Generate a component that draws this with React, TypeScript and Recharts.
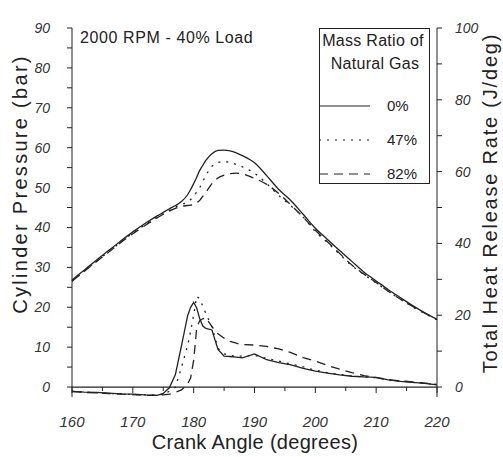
import React from "react";
import {
  ComposedChart,
  Line,
  XAxis,
  YAxis,
  Legend,
  ReferenceLine,
} from "recharts";

// crank angle (deg)
const angles = [
  160, 162, 164, 166, 168, 170, 172, 174, 175, 176, 177, 178, 179, 179.5, 180,
  180.5, 181, 181.5, 182, 183, 184, 185, 186, 187, 188, 190, 192, 194, 196, 198,
  200, 202, 204, 206, 208, 210, 212, 214, 216, 218, 220,
];

// cylinder pressure (bar)
const pres0 = [
  26.8, 29.3, 31.8, 34.2, 36.6, 38.9, 41.0, 42.9, 43.8, 44.7, 45.5, 46.5, 48.2,
  49.5, 51.0, 52.6, 54.3, 55.6, 56.8, 58.5, 59.3, 59.4, 59.2, 58.7, 58.0, 56.2,
  53.0, 49.5, 46.7, 43.3, 39.8, 37.0, 34.2, 31.5, 28.8, 26.6, 24.4, 22.4, 20.4,
  18.6, 17.0,
];
const pres47 = [
  26.5, 29.0, 31.5, 33.9, 36.3, 38.6, 40.7, 42.6, 43.5, 44.3, 45.1, 45.8, 46.3,
  47.0, 47.8, 48.9, 50.0, 51.5, 53.0, 55.3, 56.3, 56.5, 56.3, 55.8, 55.2, 53.6,
  51.0, 48.0, 45.4, 42.6, 39.0, 36.2, 33.3, 30.4, 28.2, 26.1, 24.0, 22.0, 20.1,
  18.4, 16.9,
];
const pres82 = [
  26.5, 29.0, 31.4, 33.8, 36.2, 38.4, 40.5, 42.4, 43.3, 44.1, 44.8, 45.3, 45.5,
  45.6, 45.7, 46.2, 46.8, 47.8, 48.8, 51.0, 52.4, 53.1, 53.5, 53.6, 53.4, 52.3,
  50.8, 48.5, 45.6, 42.6, 39.3, 36.4, 33.5, 30.6, 28.3, 26.2, 24.0, 22.0, 20.2,
  18.5, 16.9,
];

// total heat release rate (J/deg)
const heat0 = [
  -1.2, -1.4, -1.5, -1.7, -1.9, -2.0, -2.2, -2.3, -1.8, -0.2, 3.5, 11.5, 19.8,
  22.2, 23.6, 22.0, 19.0, 17.0, 16.3, 15.9, 10.5, 8.6, 8.5, 8.3, 8.1, 9.2, 7.6,
  6.8, 6.2, 5.2, 4.4, 3.9, 3.4, 3.0, 2.8, 2.7, 2.0, 1.6, 1.3, 1.0, 0.6,
];
const heat47 = [
  -1.2, -1.4, -1.6, -1.8, -1.9, -2.1, -2.2, -2.2, -2.0, -1.2, 0.0, 5.5, 11.5,
  15.5, 20.0, 25.3, 24.5, 22.5, 20.5, 16.8, 10.8, 9.2, 8.8, 8.6, 8.6, 8.8, 8.0,
  7.2, 6.4, 5.6, 4.7, 4.0, 3.5, 3.1, 2.8, 2.6, 2.1, 1.7, 1.3, 1.0, 0.6,
];
const heat82 = [
  -1.3, -1.5, -1.6, -1.8, -2.0, -2.1, -2.3, -2.3, -2.2, -2.0, -1.5, -0.8, 0.8,
  2.5, 7.5, 16.5, 18.5, 19.0, 19.3, 16.8, 14.8, 13.6, 12.7, 12.2, 11.8, 11.7,
  11.3, 10.6, 9.6, 8.2, 7.2, 6.0, 5.0, 4.0, 3.2, 2.6, 2.0, 1.7, 1.4, 1.1, 0.7,
];

const xTicks = [160, 165, 170, 175, 180, 185, 190, 195, 200, 205, 210, 215, 220];
const leftTicks = [0, 5, 10, 15, 20, 25, 30, 35, 40, 45, 50, 55, 60, 65, 70, 75, 80, 85, 90];
const rightTicks = [0, 10, 20, 30, 40, 50, 60, 70, 80, 90, 100];

const seriesNames = ["0%", "47%", "82%"];

const data = angles.map((a, i) => ({
  angle: a,
  p0: pres0[i],
  p47: pres47[i],
  p82: pres82[i],
  h0: heat0[i],
  h47: heat47[i],
  h82: heat82[i],
}));

const W = 503;
const H = 457;
const TOP = 28;
const PLOT_BOTTOM = 397;
const LEFT_MIN = -2.5;
const LEFT_MAX = 90;
const RIGHT_MIN = (LEFT_MIN * 100) / 90;
const ZERO_OFFSET =
  ((PLOT_BOTTOM - TOP) * (0 - LEFT_MIN)) / (LEFT_MAX - LEFT_MIN);

const INK = "#222";
const FONT = "'Liberation Sans', Arial, sans-serif";
const DASHES = [undefined, "2 6", "9 6"];

const XTick = (props: any) => {
  const { x, y, payload } = props;
  const zeroY = y - ZERO_OFFSET;
  const major = payload.value % 10 === 0;
  return (
    <g>
      <line x1={x} x2={x} y1={zeroY} y2={zeroY + (major ? 6 : 4)} stroke={INK} />
      {major && (
        <text
          x={x}
          y={zeroY + 40}
          textAnchor="middle"
          fontSize={15}
          fontStyle="italic"
          fontFamily={FONT}
          fill="#333"
        >
          {payload.value}
        </text>
      )}
    </g>
  );
};

const LegendBox = () => (
  <div
    style={{
      width: 111,
      height: 156,
      boxSizing: "border-box",
      border: `1px solid ${INK}`,
      background: "#fff",
      fontFamily: FONT,
      color: "#222",
      position: "relative",
    }}
  >
    <svg width={111} height={156} style={{ position: "absolute", left: -1, top: -1 }}>
      <text x={54} y={18} textAnchor="middle" fontSize={16} letterSpacing={0.3} fill="#222">
        Mass Ratio of
      </text>
      <text x={56} y={41} textAnchor="middle" fontSize={16} letterSpacing={0.3} fill="#222">
        Natural Gas
      </text>
      {seriesNames.map((n, i) => {
        const cy = 78 + i * 34;
        return (
          <g key={n}>
            <line x1={0} x2={51} y1={cy} y2={cy} stroke={INK} strokeWidth={1.2} strokeDasharray={DASHES[i]} />
            <text x={68} y={cy + 5} fontSize={15} fill="#222">
              {n}
            </text>
          </g>
        );
      })}
    </svg>
  </div>
);

export default function App() {
  return (
    <div style={{ position: "absolute", left: 0, top: 0, width: W, height: H, background: "#fff" }}>
      <ComposedChart
        width={W}
        height={H}
        data={data}
        margin={{ top: TOP, right: 0, bottom: 0, left: 0 }}
      >
        <XAxis
          dataKey="angle"
          type="number"
          domain={[160, 220]}
          ticks={xTicks}
          interval={0}
          axisLine={false}
          tickLine={false}
          tickSize={0}
          tickMargin={0}
          height={H - PLOT_BOTTOM}
          tick={<XTick />}
        />
        <YAxis
          yAxisId="left"
          domain={[LEFT_MIN, LEFT_MAX]}
          ticks={leftTicks}
          interval={0}
          allowDataOverflow
          width={72}
          tickSize={5}
          tickMargin={17}
          stroke={INK}
          tickFormatter={(v: number) => (v % 10 === 0 ? String(v) : "")}
          tick={{ fontSize: 14, fontStyle: "italic", fill: "#333", fontFamily: FONT }}
        />
        <YAxis
          yAxisId="right"
          orientation="right"
          domain={[RIGHT_MIN, 100]}
          ticks={rightTicks}
          interval={0}
          allowDataOverflow
          width={66}
          tickSize={5}
          tickMargin={13}
          stroke={INK}
          tickFormatter={(v: number) => (v % 20 === 0 ? String(v) : "")}
          tick={{ fontSize: 14, fontStyle: "italic", fill: "#333", fontFamily: FONT, textAnchor: "start" }}
        />
        <ReferenceLine yAxisId="left" y={0} stroke={INK} strokeWidth={1.2} />
        <Legend
          layout="vertical"
          align="center"
          verticalAlign="middle"
          content={<LegendBox />}
          wrapperStyle={{ left: 319, top: 28, width: 111, height: 156 }}
        />
        {["p0", "p47", "p82"].map((k, i) => (
          <Line
            key={k}
            yAxisId="left"
            dataKey={k}
            name={seriesNames[i]}
            type="monotone"
            stroke={INK}
            strokeWidth={1.3}
            strokeDasharray={DASHES[i]}
            dot={false}
            isAnimationActive={false}
          />
        ))}
        {["h0", "h47", "h82"].map((k, i) => (
          <Line
            key={k}
            yAxisId="right"
            dataKey={k}
            name={seriesNames[i]}
            legendType="none"
            type="linear"
            stroke={INK}
            strokeWidth={1.3}
            strokeDasharray={DASHES[i]}
            dot={false}
            isAnimationActive={false}
          />
        ))}
      </ComposedChart>
      <svg
        width={W}
        height={H}
        style={{ position: "absolute", left: 0, top: 0, pointerEvents: "none" }}
        fontFamily={FONT}
        fill="#222"
      >
        <text x={80} y={43} fontSize={16} letterSpacing={0.6}>
          2000 RPM - 40% Load
        </text>
        <text
          x={255}
          y={449}
          textAnchor="middle"
          fontSize={20}
          letterSpacing={0.3}
        >
          Crank Angle (degrees)
        </text>
        <text
          transform="translate(27,184) rotate(-90)"
          textAnchor="middle"
          fontSize={20}
          letterSpacing={2.3}
        >
          Cylinder Pressure (bar)
        </text>
        <text
          transform="translate(497,203) rotate(-90)"
          textAnchor="middle"
          fontSize={20}
          letterSpacing={1.8}
        >
          Total Heat Release Rate (J/deg)
        </text>
      </svg>
    </div>
  );
}
